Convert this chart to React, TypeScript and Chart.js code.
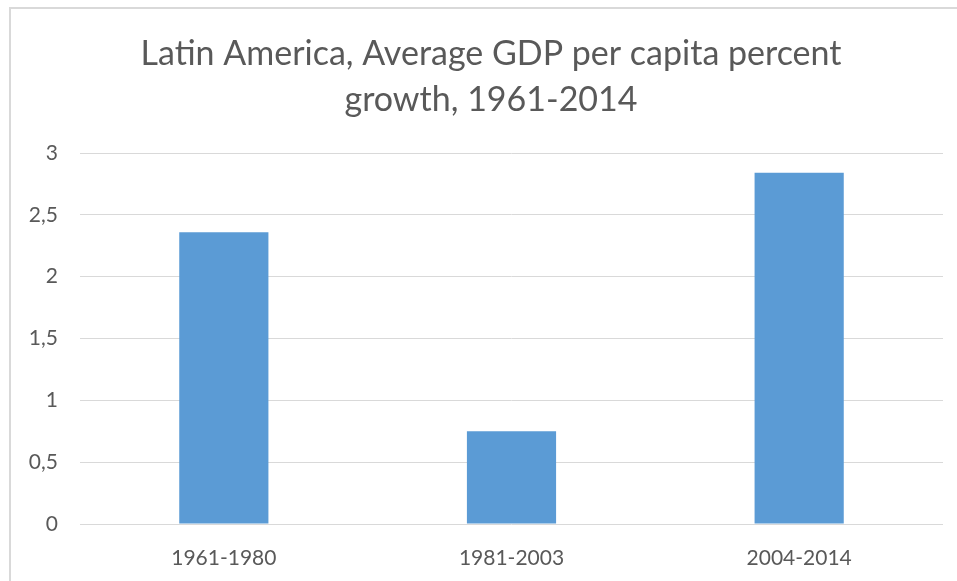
import React, { useEffect, useRef } from "react";
import { Chart, registerables } from "chart.js";

Chart.register(...registerables);

const categories = ["1961-1980", "1981-2003", "2004-2014"];
const growthValues = [2.36, 0.75, 2.84];
const titleLines = ["Latin America, Average GDP per capita percent", "growth, 1961-2014"];
const yMin = 0;
const yMax = 3;
const yStep = 0.5;

const TITLE_CENTER_X = 491;
const TITLE_BASELINES = [65, 111];

const titlePlugin = {
  id: "excelTitle",
  afterDraw(chart: any) {
    const ctx = chart.ctx;
    ctx.save();
    ctx.fillStyle = "#595959";
    ctx.font = "34px Lato";
    ctx.textAlign = "center";
    ctx.textBaseline = "alphabetic";
    titleLines.forEach((line, i) => {
      ctx.fillText(line, TITLE_CENTER_X, TITLE_BASELINES[i]);
    });
    ctx.restore();
  },
};

export default function App() {
  const canvasRef = useRef<HTMLCanvasElement | null>(null);

  useEffect(() => {
    const canvas = canvasRef.current;
    if (!canvas) return;
    const chart = new Chart(canvas, {
      type: "bar",
      data: {
        labels: categories,
        datasets: [
          {
            data: growthValues,
            backgroundColor: "#5B9BD5",
            borderWidth: 0,
            barPercentage: 0.31,
            categoryPercentage: 1,
          },
        ],
      },
      plugins: [titlePlugin],
      options: {
        animation: false,
        responsive: false,
        maintainAspectRatio: false,
        layout: { padding: { left: 0, right: 14, top: 153, bottom: 0 } },
        plugins: {
          legend: { display: false },
          tooltip: { enabled: false },
          title: { display: false },
        },
        scales: {
          x: {
            grid: { display: false },
            border: { display: false },
            ticks: {
              color: "#595959",
              font: { family: "Lato", size: 21 },
              padding: 14,
              maxRotation: 0,
            },
            afterFit: (scale: any) => {
              scale.height = 57;
            },
          },
          y: {
            min: yMin,
            max: yMax,
            grid: { color: "#d9d9d9", lineWidth: 1, drawTicks: false },
            border: { display: false },
            ticks: {
              stepSize: yStep,
              color: "#595959",
              font: { family: "Lato", size: 21 },
              padding: 22,
              callback: (v: any) => String(v).replace(".", ","),
            },
            afterFit: (scale: any) => {
              scale.width = 80;
            },
          },
        },
      },
    });
    return () => chart.destroy();
  }, []);

  return (
    <div
      style={{
        position: "fixed",
        left: 0,
        top: 0,
        width: 957,
        height: 581,
        overflow: "hidden",
        background: "#ffffff",
      }}
    >
      <div
        style={{
          position: "absolute",
          left: 9,
          top: 7,
          width: 1100,
          height: 1100,
          borderLeft: "2px solid #d9d9d9",
          borderTop: "2px solid #d9d9d9",
        }}
      />
      <canvas
        ref={canvasRef}
        width={957}
        height={581}
        style={{ position: "absolute", left: 0, top: 0, width: 957, height: 581 }}
      />
    </div>
  );
}
